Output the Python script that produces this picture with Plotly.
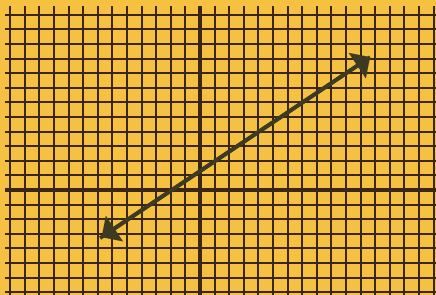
import plotly.graph_objects as go

# Graph-paper grid: integer units
grid_x = list(range(-13, 17))
grid_y = list(range(-7, 13))

# Double-headed line endpoints (data units)
line_x = [-6.85, 11.65]
line_y = [-3.3, 9.1]

paper = "#F6C040"
ink = "#3a2612"
arrow_col = "#3d3a24"

fig = go.Figure()
fig.add_trace(go.Scatter(x=line_x, y=line_y, mode="lines",
                         line=dict(color=arrow_col, width=4),
                         hoverinfo="skip", showlegend=False))

# arrowheads at both ends
fig.add_annotation(x=line_x[1], y=line_y[1], ax=line_x[0], ay=line_y[0],
                   xref="x", yref="y", axref="x", ayref="y", text="",
                   showarrow=True, arrowhead=1, arrowside="end+start",
                   arrowsize=1.3, arrowwidth=4, arrowcolor=arrow_col)

fig.update_xaxes(range=[-13.36, 16.16], tickvals=grid_x, showticklabels=False,
                 showgrid=True, gridcolor=ink, gridwidth=2,
                 zeroline=True, zerolinecolor=ink, zerolinewidth=3.5,
                 showline=False, ticks="")
fig.update_yaxes(range=[-7.19, 12.60], tickvals=grid_y, showticklabels=False,
                 showgrid=True, gridcolor=ink, gridwidth=2,
                 zeroline=True, zerolinecolor=ink, zerolinewidth=3.5,
                 showline=False, ticks="")

fig.update_layout(width=436, height=295,
                  margin=dict(l=5, r=0, t=6, b=0),
                  paper_bgcolor=paper, plot_bgcolor=paper)

fig.write_html("out.html", config={"displayModeBar": False},
               post_script="document.body.style.margin='0';"
                           "document.body.style.background='" + paper + "';")
